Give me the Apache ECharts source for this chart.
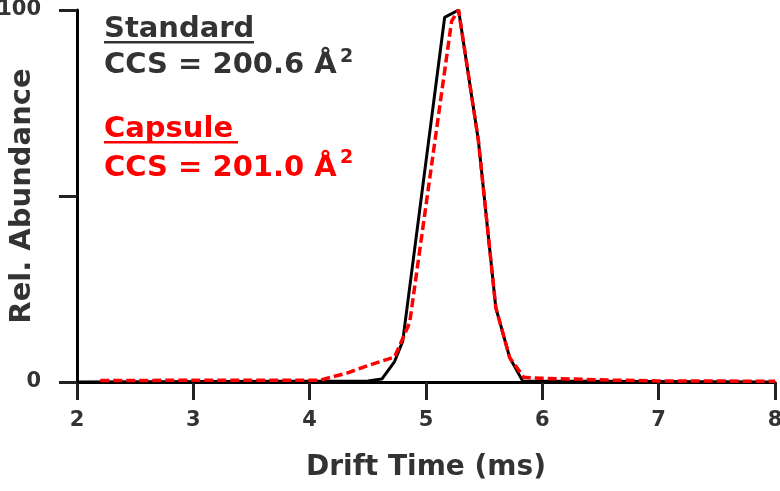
<!DOCTYPE html>
<html lang="en">
<head>
    <meta charset="UTF-8">
    <title>Drift Time</title>
    <script src="https://cdn.jsdelivr.net/npm/echarts@6/dist/echarts.min.js"></script>
</head>
<body style="margin:0">
    <div id="main" style="width: 780px;height:491px;"></div>
    <script type="text/javascript">
        // Standard (black solid)
        var stdTime  = [2.0, 4.50, 4.62, 4.73, 4.80, 5.16, 5.28, 5.45, 5.55, 5.60, 5.72, 5.83, 8.0];
        var stdAbund = [0,   0.3,  0.8,  5.5,  11,   98,   100,  65,   35,   20,   6.5,  0.3,  0];

        // Capsule (red dashed)
        var capTime  = [2.2, 3.5, 4.09, 4.32, 4.52, 4.73, 4.86, 5.22, 5.28, 5.45, 5.55, 5.60, 5.72, 5.84, 5.98, 6.24, 6.6, 7.0, 8.0];
        var capAbund = [0.4, 0.5, 0.5,  2.4,  4.6,  6.7,  16,   97,   100,  65,   35,   20,   6.5,  1.3,  1.0,  0.8,  0.5, 0.3, 0.2];

        var yTickLabels = {0: '0', 50: '', 100: '100'};

        function pairs(xs, ys) {
            var out = [];
            for (var i = 0; i < xs.length; i++) out.push([xs[i], ys[i]]);
            return out;
        }

        var FONT = 'DejaVu Sans';
        var myChart = echarts.init(document.getElementById('main'));

        var gridBox = {left: 77, right: 5, top: 10, bottom: 109, containLabel: false, outerBoundsMode: 'none'};
        var tickStyle = {show: true, inside: false, length: 18, lineStyle: {color: '#222', width: 3}};

        var option = {
            animation: false,
            // second grid on the same box only carries the tick marks
            grid: [gridBox, gridBox],
            xAxis: [{
                type: 'value', min: 2, max: 8, interval: 1,
                name: 'Drift Time (ms)', nameLocation: 'middle', nameGap: 72, nameMoveOverlap: false,
                nameTextStyle: {fontFamily: FONT, fontWeight: 'bold', fontSize: 28, color: '#333'},
                axisLine: {show: true, onZero: false, lineStyle: {color: '#000', width: 3}},
                axisTick: tickStyle,
                axisLabel: {margin: 28, fontFamily: FONT, fontWeight: 'bold', fontSize: 21, color: '#333'},
                splitLine: {show: false}
            }, {
                gridIndex: 1, type: 'value', min: 2, max: 8, interval: 1,
                axisLine: {show: false, onZero: false}, axisTick: tickStyle,
                axisLabel: {show: false}, splitLine: {show: false}
            }],
            yAxis: [{
                type: 'value', min: 0, max: 100, interval: 50,
                name: 'Rel. Abundance', nameLocation: 'middle', nameGap: 40, nameMoveOverlap: false,
                nameTextStyle: {fontFamily: FONT, fontWeight: 'bold', fontSize: 29, color: '#333'},
                axisLine: {show: true, onZero: false, lineStyle: {color: '#000', width: 3}},
                axisTick: tickStyle,
                axisLabel: {
                    margin: 36, fontFamily: FONT, fontWeight: 'bold', fontSize: 21, color: '#333',
                    formatter: function (v) { return yTickLabels[v]; }
                },
                splitLine: {show: false}
            }, {
                gridIndex: 1, type: 'value', min: 0, max: 100, interval: 50,
                axisLine: {show: false, onZero: false}, axisTick: tickStyle,
                axisLabel: {show: false}, splitLine: {show: false}
            }],
            graphic: [
                {type: 'text', left: 104, top: 15, style: {text: 'Standard', font: 'bold 29px ' + FONT, fill: '#333'}},
                {type: 'rect', shape: {x: 104, y: 41, width: 150, height: 2.5}, style: {fill: '#333'}},
                {type: 'text', left: 104, top: 51, style: {text: 'CCS = 200.6 Å', font: 'bold 29px ' + FONT, fill: '#333'}},
                {type: 'text', left: 340, top: 48, style: {text: '2', font: 'bold 19px ' + FONT, fill: '#333'}},
                {type: 'text', left: 104, top: 115, style: {text: 'Capsule', font: 'bold 29px ' + FONT, fill: '#ff0000'}},
                {type: 'rect', shape: {x: 104, y: 141, width: 134, height: 2.5}, style: {fill: '#ff0000'}},
                {type: 'text', left: 104, top: 154, style: {text: 'CCS = 201.0 Å', font: 'bold 29px ' + FONT, fill: '#ff0000'}},
                {type: 'text', left: 340, top: 149, style: {text: '2', font: 'bold 19px ' + FONT, fill: '#ff0000'}}
            ],
            series: [
                {
                    name: 'Standard', type: 'line', data: pairs(stdTime, stdAbund),
                    showSymbol: false, z: 2,
                    lineStyle: {color: '#000', width: 3}
                },
                {
                    name: 'Capsule', type: 'line', data: pairs(capTime, capAbund),
                    showSymbol: false, z: 3,
                    lineStyle: {color: '#ff0000', width: 3.5, type: [9, 4]}
                }
            ]
        };

        myChart.setOption(option);
    </script>
</body>
</html>
